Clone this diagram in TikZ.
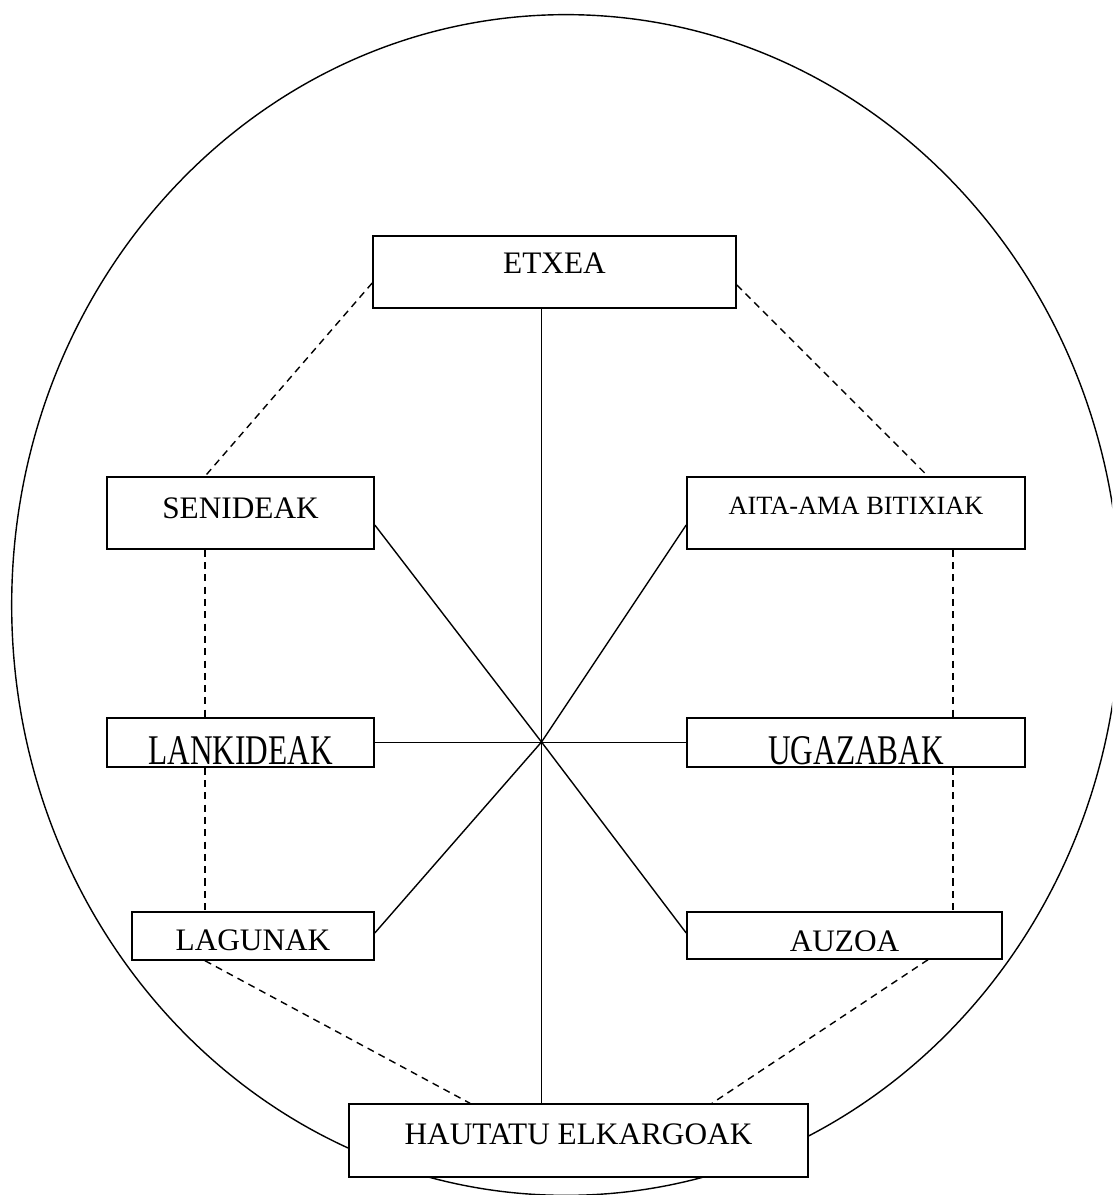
\documentclass[tikz,border=0pt]{standalone}
\usepackage{fontspec}
\setmainfont{Liberation Serif}
\usetikzlibrary{calc}
\tikzset{
  box/.style={draw, fill=white, inner sep=0pt, font=\fontsize{8.9}{10}\selectfont},
  cut/.style n args={3}{path picture={
      \clip (path picture bounding box.north west) rectangle ($(path picture bounding box.south east)+(0,-#1)$);
      \node[anchor=base, inner sep=0pt, font=\fontsize{8.9}{10}\selectfont] at ($(path picture bounding box.north)+(0,#2)$) {#3};}},
  link/.style={dash pattern=on 2pt off 1.5pt}
}

\begin{document}
\begin{tikzpicture}[x=0.01cm,y=-0.01cm]
      \useasboundingbox (0,0) rectangle (1112,1195);
      \clip (0,0) rectangle (1112,1195);

      \draw (566,605) ellipse [x radius=5.54cm, y radius=5.9cm];

      \node[box, minimum width=3.63cm, text height=0.38cm, text depth=0.34cm] (etxea) at (554.5,272) {ETXEA};
      \node[box, minimum width=2.67cm, text height=0.41cm, text depth=0.31cm] (senideak) at (240.5,513) {SENIDEAK};
      \node[box, minimum width=3.38cm, text height=0.375cm, text depth=0.345cm, font=\fontsize{7.5}{9}\selectfont] (aita) at (856,513) {AITA-AMA BITIXIAK};

      \node[box, minimum width=2.67cm, minimum height=0.49cm, cut={2}{47}{\scalebox{1}[1.35]{LANKIDEAK}}] (lank) at (240.5,742.5) {};
      \node[box, minimum width=3.38cm, minimum height=0.49cm, cut={2}{47}{\scalebox{1}[1.35]{UGAZABAK}}] (ugaz) at (856,742.5) {};

      \node[box, minimum width=2.42cm, minimum height=0.48cm, cut={10}{39}{LAGUNAK}] (lagunak) at (253,936) {};
      \node[box, minimum width=3.15cm, minimum height=0.47cm, cut={9}{40}{AUZOA}] (auzoa) at (844.5,935.5) {};

      \node[box, minimum width=4.59cm, text height=0.40cm, text depth=0.33cm] (hautatu) at (578.5,1140.5) {HAUTATU ELKARGOAK};

      \coordinate (hub) at (541.5,742);
      \coordinate (lcol) at (205,0);
      \coordinate (rcol) at (953,0);

      % spokes
      \draw (etxea.south -| hub) -- (hautatu.north -| hub);
      \draw (lank.east) -- (ugaz.west);
      \draw (hub) -- ($(senideak.east)+(0,12)$);
      \draw (hub) -- ($(aita.west)+(0,12)$);
      \draw (hub) -- ($(lagunak.east)+(0,-3)$);
      \draw (hub) -- ($(auzoa.west)+(0,-2.5)$);

      % ring
      \draw[link] ($(etxea.west)+(0,11)$) -- (senideak.north -| lcol);
      \draw[link] ($(etxea.east)+(0,13)$) -- ($(aita.north)+(72,0)$);
      \draw[link] (senideak.south -| lcol) -- (lank.north -| lcol);
      \draw[link] (lank.south -| lcol) -- (lagunak.north -| lcol);
      \draw[link] (aita.south -| rcol) -- (ugaz.north -| rcol);
      \draw[link] (ugaz.south -| rcol) -- (auzoa.north -| rcol);
      \draw[link] (lagunak.south -| lcol) -- ($(hautatu.north)+(-108.5,0)$);
      \draw[link] ($(auzoa.south)+(83.5,0)$) -- ($(hautatu.north)+(133.5,0)$);
\end{tikzpicture}
\end{document}
